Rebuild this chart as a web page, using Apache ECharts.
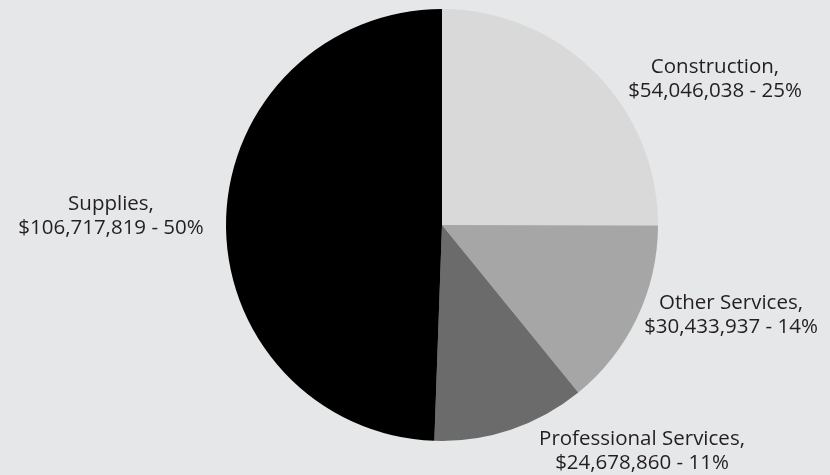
<!DOCTYPE html>
<html>
<head>
<meta charset="utf-8">
<script src="https://cdn.jsdelivr.net/npm/echarts@6/dist/echarts.min.js"></script>
<style>
html,body{margin:0;padding:0;background:#e6e7e8;}
#c{width:830px;height:475px;}
</style>
</head>
<body>
<div id="c"></div>
<script>
const categories = ['Construction', 'Other Services', 'Professional Services', 'Supplies'];
const values = [54046038, 30433937, 24678860, 106717819];
const pctLabels = [25, 14, 11, 50];
const colors = ['#d9d9d9', '#a6a6a6', '#6b6b6b', '#000000'];

const labelPos = [
  {x: 715, y: 79},
  {x: 731, y: 315},
  {x: 642, y: 451},
  {x: 111, y: 216}
];

function fmt(n){ return '$' + n.toString().replace(/\B(?=(\d{3})+(?!\d))/g, ','); }

const chart = echarts.init(document.getElementById('c'), null, {renderer: 'canvas'});
chart.setOption({
  backgroundColor: '#e6e7e8',
  animation: false,
  series: [{
    type: 'pie',
    center: [442, 225],
    radius: [0, 216],
    startAngle: 90,
    clockwise: true,
    avoidLabelOverlap: false,
    itemStyle: {borderWidth: 0},
    label: {
      show: true,
      position: 'outside',
      color: '#231f20',
      fontFamily: 'Open Sans',
      fontSize: 20.5,
      lineHeight: 24,
      align: 'center',
      formatter: function(p){ return p.name + ',\n' + fmt(p.value) + ' - ' + pctLabels[p.dataIndex] + '%'; }
    },
    labelLine: {show: false},
    labelLayout: function(p){
      const pos = labelPos[p.dataIndex];
      return {x: pos.x, y: pos.y, align: 'center', verticalAlign: 'middle'};
    },
    emphasis: {disabled: true},
    data: categories.map((c, i) => ({name: c, value: values[i], itemStyle: {color: colors[i]}}))
  }]
});
</script>
</body>
</html>
